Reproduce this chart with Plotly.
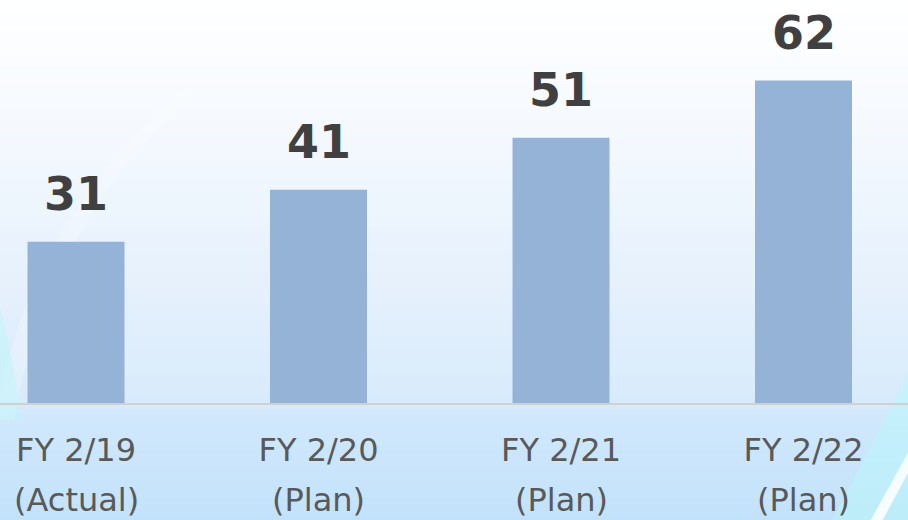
import plotly.graph_objects as go

categories = ["FY 2/19", "FY 2/20", "FY 2/21", "FY 2/22"]
sublabels = ["(Actual)", "(Plan)", "(Plan)", "(Plan)"]
values = [31, 41, 51, 62]

BAR_COLOR = "#95b3d7"
W, H = 908, 520
B_MARGIN = 117

fig = go.Figure()
fig.add_trace(go.Bar(
    x=list(range(len(categories))), y=values, width=0.4,
    marker=dict(color=BAR_COLOR, line=dict(width=0)),
    hoverinfo="skip",
))

# Gradient background via stacked bands (paper coords; plot bottom = 0)
shapes = []
stops = [(0, (255, 255, 255)), (150, (243, 248, 254)), (300, (228, 240, 252)),
         (400, (216, 235, 252)), (420, (208, 232, 252)), (520, (194, 226, 251))]
plot_h = H - B_MARGIN
def col_at(py):
    for (y0, c0), (y1, c1) in zip(stops[:-1], stops[1:]):
        if y0 <= py <= y1:
            t = (py - y0) / (y1 - y0)
            return tuple(round(a + (b - a) * t) for a, b in zip(c0, c1))
    return stops[-1][1]
step = 6
for py in range(0, H, step):
    c = col_at(py + step / 2)
    shapes.append(dict(type="rect", xref="paper", yref="paper", layer="below",
                       x0=-0.01, x1=1.01, y0=1 - (py + step + 1) / plot_h, y1=1 - py / plot_h,
                       fillcolor="rgb(%d,%d,%d)" % c, line=dict(width=0)))
# decorative swooshes (pixel-like paper coords)
def px(x, y):
    return "%.4f,%.4f" % (x / W, 1 - y / plot_h)
shapes.append(dict(type="path", xref="paper", yref="paper", layer="below",
                   path="M %s Q %s %s L %s Q %s %s Z" % (px(-5, 420), px(25, 230), px(180, 90), px(195, 90),
                                                       px(45, 230), px(14, 420)),
                   fillcolor="rgba(255,255,255,0.22)", line=dict(width=0)))
shapes.append(dict(type="path", xref="paper", yref="paper", layer="below",
                   path="M %s L %s Q %s %s Z" % (px(-5, 420), px(-5, 290), px(10, 340), px(22, 420)),
                   fillcolor="rgba(190,245,250,0.5)", line=dict(width=0)))
shapes.append(dict(type="path", xref="paper", yref="paper", layer="below",
                   path="M %s L %s L %s Z" % (px(830, 525), px(915, 360), px(915, 525)),
                   fillcolor="rgba(185,245,250,0.55)", line=dict(width=0)))
shapes.append(dict(type="path", xref="paper", yref="paper", layer="below",
                   path="M %s L %s L %s L %s Z" % (px(868, 525), px(915, 440), px(915, 460), px(880, 525)),
                   fillcolor="rgba(255,255,255,0.85)", line=dict(width=0)))

annotations = []
for i, v in enumerate(values):
    annotations.append(dict(x=i, y=v, xref="x", yref="y", text=str(v), showarrow=False,
                            yanchor="bottom", yshift=19,
                            font=dict(family="DejaVu Sans", size=46, color="#404040", weight="bold")))
    annotations.append(dict(x=i, y=0, xref="x", yref="paper", text=sublabels[i],
                            showarrow=False, yanchor="middle", yshift=-97,
                            font=dict(family="DejaVu Sans", size=32, color="#595959")))

px_per_cat = 242.5
x0px = 76
fig.update_layout(
    width=W, height=H,
    margin=dict(l=0, r=0, t=0, b=B_MARGIN, pad=0),
    paper_bgcolor="#ffffff", plot_bgcolor="rgba(0,0,0,0)",
    showlegend=False, shapes=shapes, annotations=annotations,
    xaxis=dict(range=[-x0px / px_per_cat, (W - x0px) / px_per_cat],
               tickvals=list(range(len(categories))), ticktext=categories,
               tickfont=dict(family="DejaVu Sans", size=32, color="#595959"),
               showgrid=False, zeroline=False, showline=True, linecolor="#d0d0d0", linewidth=2,
               ticks="", ticklabelstandoff=18, fixedrange=True),
    yaxis=dict(range=[0, 403 / 5.2], visible=False, fixedrange=True),
)
fig.write_html("out.html", config={"displayModeBar": False},
               post_script="document.body.style.margin='0';document.body.style.overflow='hidden';")
